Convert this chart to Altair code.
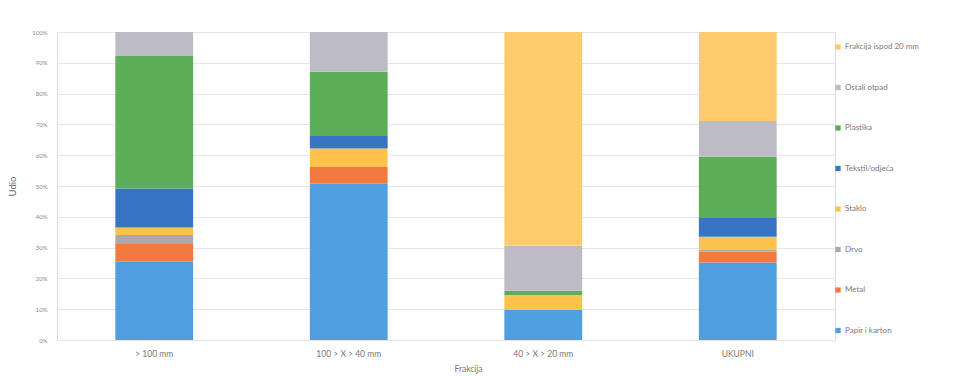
import altair as alt
import pandas as pd

# Size fractions (x axis)
fractions = ["> 100 mm", "100 > X > 40 mm", "40 > X > 20 mm", "UKUPNI"]

# Waste categories, bottom of the stack first
categories = [
    "Papir i karton",
    "Metal",
    "Drvo",
    "Staklo",
    "Tekstil/odjeća",
    "Plastika",
    "Ostali otpad",
    "Frakcija ispod 20 mm",
]

# Share (%) of each category per fraction, same order as `categories`
share_gt100 = [25.5, 5.7, 2.9, 2.4, 12.7, 43.0, 7.8, 0.0]
share_100_40 = [50.8, 5.4, 0.0, 6.0, 4.0, 20.9, 12.9, 0.0]
share_40_20 = [9.7, 0.0, 0.0, 4.9, 0.0, 1.4, 14.6, 69.4]
share_total = [25.2, 3.5, 0.5, 4.3, 6.1, 19.9, 11.6, 28.9]

colors = [
    "#4F9EE0",  # Papir i karton
    "#F27A3E",  # Metal
    "#A9A9B0",  # Drvo
    "#FFC24C",  # Staklo
    "#3874C4",  # Tekstil/odjeća
    "#5CAE58",  # Plastika
    "#BDBBC4",  # Ostali otpad
    "#FFCB6C",  # Frakcija ispod 20 mm
]

rows = []
for frac, shares in zip(fractions, [share_gt100, share_100_40, share_40_20, share_total]):
    for i, (cat, val) in enumerate(zip(categories, shares)):
        rows.append({"Frakcija": frac, "Kategorija": cat, "Udio": val, "poredak": i})
df = pd.DataFrame(rows)

legend_order = list(reversed(categories))
legend_colors = list(reversed(colors))

text_color = "#7A7A7A"
font = "Lato"

chart = (
    alt.Chart(df)
    .mark_bar()
    .encode(
        x=alt.X(
            "Frakcija:N",
            sort=fractions,
            scale=alt.Scale(paddingInner=0.6, paddingOuter=0.3),
            axis=alt.Axis(
                title="Frakcija",
                labelAngle=0,
                labelFontSize=8.5,
                labelColor=text_color,
                labelFont=font,
                labelPadding=9,
                ticks=False,
                domain=False,
                titleFontSize=8.5,
                titleFontWeight="normal",
                titleColor=text_color,
                titleFont=font,
                titlePadding=7,
                titleX=411,
            ),
        ),
        y=alt.Y(
            "Udio:Q",
            stack="zero",
            scale=alt.Scale(domain=[0, 100]),
            axis=alt.Axis(
                title="Udio",
                values=list(range(0, 101, 10)),
                labelExpr="datum.value + '%'",
                labelFontSize=6,
                labelColor="#8A8A8A",
                labelFont=font,
                labelPadding=10,
                ticks=False,
                domain=False,
                gridColor="#E6E6E6",
                gridWidth=1,
                titleFontSize=9.5,
                titleFontWeight="normal",
                titleColor="#6A6A6A",
                titleFont=font,
                titlePadding=14,
            ),
        ),
        color=alt.Color(
            "Kategorija:N",
            scale=alt.Scale(domain=legend_order, range=legend_colors),
            legend=alt.Legend(
                title=None,
                orient="none",
                legendX=777,
                legendY=11,
                symbolType="square",
                symbolSize=28,
                symbolStrokeWidth=0,
                labelFontSize=8,
                labelColor=text_color,
                labelFont=font,
                labelOffset=3,
                rowPadding=32.5,
            ),
        ),
        order=alt.Order("poredak:Q", sort="ascending"),
    )
    .properties(
        width=778,
        height=308,
        autosize=alt.AutoSizeParams(type="none"),
        padding={"left": 57, "top": 32, "right": 128, "bottom": 36},
    )
    .configure_view(stroke=None)
    .configure(background="white")
)

chart.save("out.html", embed_options={"renderer": "svg", "actions": False})
